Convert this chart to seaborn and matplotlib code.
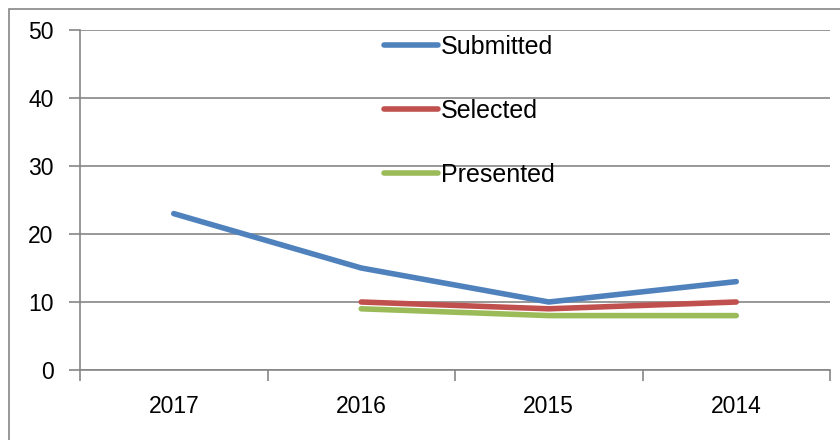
import pandas as pd
import numpy as np
import matplotlib
matplotlib.use("Agg")
import matplotlib.pyplot as plt
from matplotlib.patches import Rectangle
from matplotlib.ticker import FixedLocator
import seaborn as sns

anos = ["2017", "2016", "2015", "2014"]
submitted = [23, 15, 10, 13]
selected = [np.nan, 10, 9, 10]
presented = [np.nan, 9, 8, 8]

series = ["Submitted", "Selected", "Presented"]
cores = ["#4F81BD", "#C0504D", "#9BBB59"]

df = pd.DataFrame({
    "ano": anos * 3,
    "pos": list(range(len(anos))) * 3,
    "valor": submitted + selected + presented,
    "serie": [s for s in series for _ in anos],
})

sns.set_theme(style="white")
plt.rcParams["font.family"] = ["Liberation Sans", "DejaVu Sans"]

fig = plt.figure(figsize=(8.4, 4.4), dpi=100)
ax = fig.add_axes([80 / 840, 70 / 440, 750 / 840, 340 / 440])

# moldura do gráfico (estilo Excel)
fig.patches.append(Rectangle((9 / 840, -0.1), 1.2, 1 - 9 / 440 + 0.1,
                             transform=fig.transFigure, fill=False,
                             edgecolor="#868686", linewidth=1.2))

sns.lineplot(
    data=df.dropna(),
    x="pos",
    y="valor",
    hue="serie",
    hue_order=series,
    palette=cores,
    linewidth=4,
    solid_capstyle="round",
    ax=ax,
)

ax.set_xlim(-0.5, 3.5)
ax.set_ylim(0, 50)
ax.set_yticks(range(0, 51, 10))
ax.set_xticks(range(len(anos)))
ax.set_xticklabels(anos)
ax.xaxis.set_minor_locator(FixedLocator(np.arange(-0.5, 3.6, 1)))
ax.grid(axis="y", color="#868686", linewidth=1.2)
ax.set_axisbelow(True)

for lado in ["top", "right"]:
    ax.spines[lado].set_visible(False)
for lado in ["left", "bottom"]:
    ax.spines[lado].set_color("#868686")
    ax.spines[lado].set_linewidth(1.2)

ax.tick_params(axis="y", which="major", left=True, length=8, width=1.2,
               color="#868686", pad=11, labelsize=16.5, labelcolor="black")
ax.tick_params(axis="x", which="major", bottom=False, length=0, pad=18,
               labelsize=16.5, labelcolor="black")
ax.tick_params(axis="x", which="minor", bottom=True, length=8, width=1.2,
               color="#868686")
ax.set_xlabel("")
ax.set_ylabel("")

leg = ax.legend(
    loc="upper left",
    bbox_to_anchor=(384 / 840, 1 - 35 / 440),
    bbox_transform=fig.transFigure,
    frameon=False,
    fontsize=18,
    labelspacing=1.6,
    handlelength=2.15,
    handletextpad=0.12,
    borderpad=0,
    borderaxespad=0,
)
for t in leg.get_texts():
    t.set_color("black")

fig.savefig("out.png", dpi=100)
